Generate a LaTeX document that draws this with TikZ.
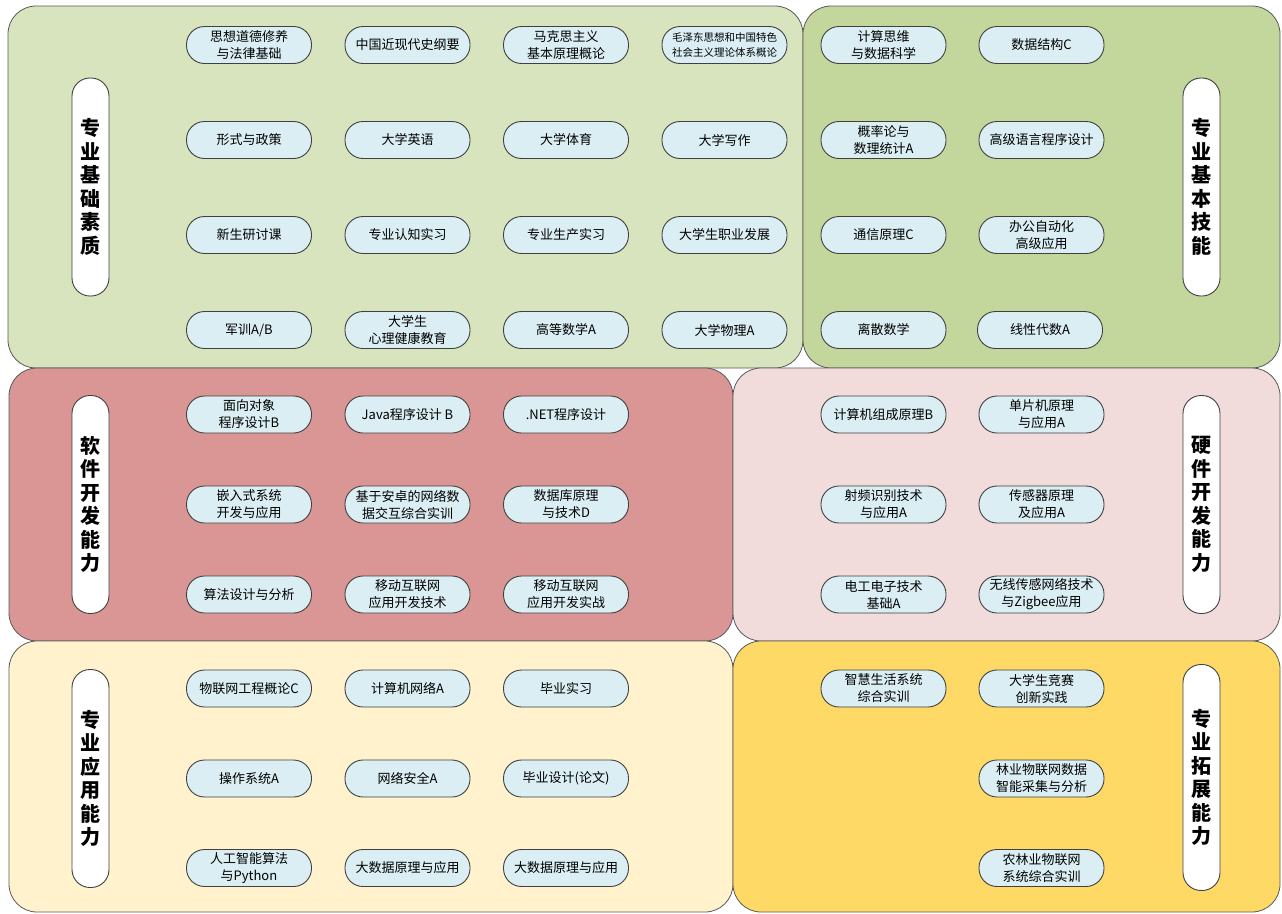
\documentclass[tikz,border=0pt]{standalone}
\usepackage{fontspec}
\newfontfamily\cjk{Noto Sans CJK SC}
\definecolor{basegreen}{HTML}{D7E4BD}
\definecolor{skillgreen}{HTML}{C3D69B}
\definecolor{softred}{HTML}{D99694}
\definecolor{hardpink}{HTML}{F2DCDB}
\definecolor{applyellow}{HTML}{FFF2CC}
\definecolor{extgold}{HTML}{FFD966}
\definecolor{pillblue}{HTML}{DAEEF3}

\begin{document}
\begin{tikzpicture}[x=1pt,y=-1pt,
  panel/.style={draw=black!65,line width=0.8pt,rounded corners=28pt},
  course/.style={draw=black!75,line width=0.9pt,fill=pillblue,rounded corners=18pt,
    minimum width=125pt,minimum height=37pt,inner sep=1pt,align=center,
    font=\cjk\fontsize{13}{17}\selectfont},
  area/.style={draw=black!75,line width=0.9pt,fill=white,rounded corners=18pt,
    minimum width=37pt,minimum height=218pt,inner sep=0pt,align=center,
    font=\cjk\bfseries\fontsize{20}{23.5}\selectfont}
]
  \useasboundingbox (0,0) rectangle (1282,913);
  \fill[white] (0,0) rectangle (1282,913);

  % panels
  \draw[panel,fill=basegreen] (8,6) rectangle (803,368);
  \draw[panel,fill=skillgreen] (803,6) rectangle (1280,368);
  \draw[panel,fill=softred] (9,368) rectangle (733,641);
  \draw[panel,fill=hardpink] (733,368) rectangle (1280,641);
  \draw[panel,fill=applyellow] (9,641) rectangle (733,912);
  \draw[panel,fill=extgold] (733,641) rectangle (1280,912);

  % basic quality
  \node[area] (base) at (90.5,187) {专\\业\\基\\础\\素\\质};
  \node[course] (ethics) at (249,45) {思想道德修养\\与法律基础};
  \node[course] (history) at (407.5,45) {中国近现代史纲要};
  \node[course] (marx) at (566,45) {马克思主义\\基本原理概论};
  \node[course,font=\cjk\fontsize{10.5}{15}\selectfont] (mao) at (724.5,45)
    {毛泽东思想和中国特色\\社会主义理论体系概论};
  \node[course] (policy) at (249,140) {形式与政策};
  \node[course] (english) at (407.5,140) {大学英语};
  \node[course] (pe) at (566,140) {大学体育};
  \node[course] (writing) at (724.5,140) {大学写作};
  \node[course] (seminar) at (249,235) {新生研讨课};
  \node[course] (cogintern) at (407.5,235) {专业认知实习};
  \node[course] (prodintern) at (566,235) {专业生产实习};
  \node[course] (career) at (724.5,235) {大学生职业发展};
  \node[course] (military) at (249,330) {军训A/B};
  \node[course] (mental) at (407.5,330) {大学生\\心理健康教育};
  \node[course] (calculus) at (566,330) {高等数学A};
  \node[course] (physics) at (724.5,330) {大学物理A};

  % basic skills
  \node[area] (skill) at (1201.5,187) {专\\业\\基\\本\\技\\能};
  \node[course] (compthink) at (883.5,45) {计算思维\\与数据科学};
  \node[course] (datastruct) at (1041.5,45) {数据结构C};
  \node[course] (prob) at (883.5,140) {概率论与\\数理统计A};
  \node[course] (hlprog) at (1041.5,140) {高级语言程序设计};
  \node[course] (comm) at (883.5,235) {通信原理C};
  \node[course] (office) at (1041.5,235) {办公自动化\\高级应用};
  \node[course] (discrete) at (883.5,330) {离散数学};
  \node[course] (linalg) at (1040,330) {线性代数A};

  % software
  \node[area] (soft) at (90.5,504.5) {软\\件\\开\\发\\能\\力};
  \node[course] (oop) at (249,414.5) {面向对象\\程序设计B};
  \node[course] (java) at (407.5,414.5) {Java程序设计 B};
  \node[course] (dotnet) at (566,414.5) {.NET程序设计};
  \node[course] (embedded) at (249,504.5) {嵌入式系统\\开发与应用};
  \node[course] (android) at (407.5,504.5) {基于安卓的网络数\\据交互综合实训};
  \node[course] (database) at (566,504.5) {数据库原理\\与技术D};
  \node[course] (algo) at (249,594.5) {算法设计与分析};
  \node[course] (mobtech) at (407.5,594.5) {移动互联网\\应用开发技术};
  \node[course] (mobprac) at (566,594.5) {移动互联网\\应用开发实战};

  % hardware
  \node[area] (hard) at (1201.5,504.5) {硬\\件\\开\\发\\能\\力};
  \node[course] (organ) at (883.5,414.5) {计算机组成原理B};
  \node[course] (mcu) at (1041.5,414.5) {单片机原理\\与应用A};
  \node[course] (rfid) at (883.5,504.5) {射频识别技术\\与应用A};
  \node[course] (sensor) at (1041.5,504.5) {传感器原理\\及应用A};
  \node[course] (electro) at (883.5,594.5) {电工电子技术\\基础A};
  \node[course] (zigbee) at (1041.5,594.5) {无线传感网络技术\\与Zigbee应用};

  % application
  \node[area] (apply) at (90.5,778.5) {专\\业\\应\\用\\能\\力};
  \node[course] (iot) at (249,688.5) {物联网工程概论C};
  \node[course] (network) at (407.5,688.5) {计算机网络A};
  \node[course] (gradintern) at (566,688.5) {毕业实习};
  \node[course] (os) at (249,778.5) {操作系统A};
  \node[course] (security) at (407.5,778.5) {网络安全A};
  \node[course] (thesis) at (566,778.5) {毕业设计(论文)};
  \node[course] (ai) at (249,868) {人工智能算法\\与Python};
  \node[course] (bigdata) at (407.5,868) {大数据原理与应用};
  \node[course] (bigdatab) at (566,868) {大数据原理与应用};

  % extension
  \node[area,minimum height=226pt] (extend) at (1201.5,777.5) {专\\业\\拓\\展\\能\\力};
  \node[course] (smartlife) at (883.5,688.5) {智慧生活系统\\综合实训};
  \node[course] (contest) at (1041.5,688.5) {大学生竞赛\\创新实践};
  \node[course] (forest) at (1041.5,778.5) {林业物联网数据\\智能采集与分析};
  \node[course] (agri) at (1041.5,868) {农林业物联网\\系统综合实训};
\end{tikzpicture}
\end{document}
